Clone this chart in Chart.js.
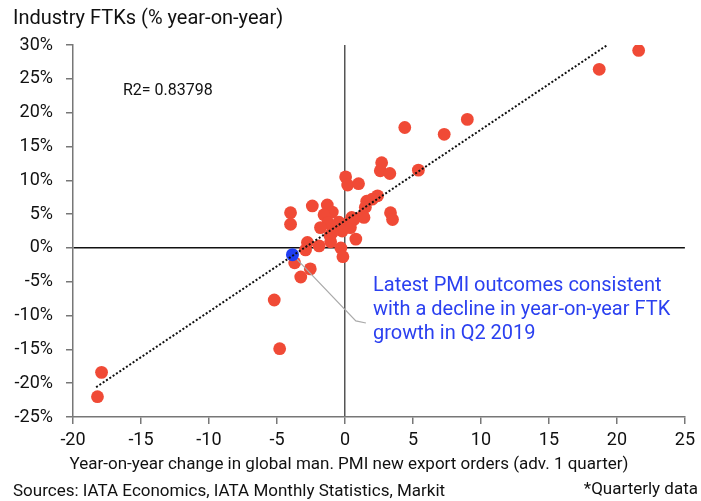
<!DOCTYPE html>
<html>
<head>
<meta charset="utf-8">
<script src="https://cdn.jsdelivr.net/npm/chart.js@4.4.1/dist/chart.umd.min.js"></script>
<style>
  html, body { margin: 0; padding: 0; background: #fff; }
  canvas { display: block; }
</style>
</head>
<body>
<canvas id="chart" width="701" height="501"></canvas>
<script>
// PMI new export orders y/y change (adv. 1 quarter) vs industry FTK growth (%)
const pmiX = [21.6, 18.7, 9.0, 7.3, 4.4, 5.4, 2.7, 2.6, 3.3, 0.05, 0.2, 1.0, 2.4, 2.0, 1.6, 1.5,
  3.35, 3.5, 1.3, 0.66, 0.3, 0.4, 0.8, -0.3, -0.15, -2.4, -4.0, -4.0, -1.3, -0.93, -1.54, -1.25,
  -1.8, -0.6, -0.44, -0.2, -1.1, -1.05, -1.9, -2.76, -2.9, -3.7, -2.55, -3.25, -5.2, -4.8, -17.9, -18.2,
  1.4, 0.5, -0.93];
const ftkY = [29.2, 26.4, 19.0, 16.8, 17.8, 11.5, 12.6, 11.4, 11.0, 10.5, 9.3, 9.5, 7.7, 7.2, 6.9, 6.0,
  5.2, 4.2, 4.7, 4.2, 3.7, 3.0, 1.3, 0.0, -1.3, 6.2, 5.2, 3.5, 6.35, 5.3, 4.9, 3.7,
  3.0, 3.25, 3.8, 2.5, 1.8, 0.9, 0.3, 0.8, -0.3, -2.2, -3.1, -4.3, -7.7, -14.9, -18.4, -22.0,
  4.5, 4.5, 2.3];

// latest quarter
const latestX = [-3.86];
const latestY = [-1.0];

// dotted trend line end points
const trendX = [-18.3, 19.3];
const trendY = [-20.6, 30.0];

// callout line from latest point towards the note
const calloutX = [-3.86, 0.8, 1.54];
const calloutY = [-1.0, -10.8, -11.1];

const xTicks = [-20, -15, -10, -5, 0, 5, 10, 15, 20, 25];
const yTicks = [-25, -20, -15, -10, -5, 0, 5, 10, 15, 20, 25, 30];

const toPts = (xs, ys) => xs.map((x, i) => ({ x: x, y: ys[i] }));

const FONT = 'Roboto';

const zeroColor = (c) => (c.tick && c.tick.value === 0) ? '#111' : 'rgba(0,0,0,0)';

const textPlugin = {
  id: 'texts',
  afterDraw(chart) {
    const c = chart.ctx;
    c.save();
    c.fillStyle = '#111';
    c.textBaseline = 'middle';
    c.textAlign = 'left';
    c.font = '20px ' + FONT;
    c.fillText('Industry FTKs (% year-on-year)', 13, 19);
    c.font = '16px ' + FONT;
    c.fillText('R2= 0.83798', 123, 91);
    c.font = '17px ' + FONT;
    c.textAlign = 'center';
    c.fillText('Year-on-year change in global man. PMI new export orders (adv. 1 quarter)', 349, 465);
    c.textAlign = 'left';
    c.fillText('Sources: IATA Economics, IATA Monthly Statistics, Markit', 13, 492);
    c.textAlign = 'right';
    c.fillText('*Quarterly data', 698, 490);
    c.textAlign = 'left';
    c.fillStyle = '#2b40f0';
    c.font = '20px ' + FONT;
    c.fillText('Latest PMI outcomes consistent', 373, 286);
    c.fillText('with a decline in year-on-year FTK', 373, 310);
    c.fillText('growth in Q2 2019', 373, 334);
    c.restore();
  }
};

new Chart(document.getElementById('chart'), {
  type: 'scatter',
  data: {
    datasets: [
      {
        type: 'line',
        data: toPts(trendX, trendY),
        borderColor: '#111',
        borderWidth: 2,
        borderDash: [2, 2],
        pointRadius: 0,
        fill: false,
        order: 0
      },
      {
        data: toPts(latestX, latestY),
        backgroundColor: '#1f3df2',
        borderWidth: 0,
        pointRadius: 6.5,
        order: 1
      },
      {
        type: 'line',
        data: toPts(calloutX, calloutY),
        borderColor: '#aaaaaa',
        borderWidth: 1.2,
        pointRadius: 0,
        fill: false,
        order: 2
      },
      {
        data: toPts(pmiX, ftkY),
        backgroundColor: '#f04a36',
        borderWidth: 0,
        pointRadius: 6.4,
        order: 3
      }
    ]
  },
  options: {
    responsive: false,
    animation: false,
    layout: { padding: { left: 0, top: 45, right: 14, bottom: 0 } },
    plugins: { legend: { display: false }, tooltip: { enabled: false } },
    scales: {
      x: {
        type: 'linear',
        min: -20, max: 25,
        afterFit(s) { s.height = 84; },
        afterBuildTicks(s) { s.ticks = xTicks.map(v => ({ value: v })); },
        grid: { color: c => (c.tick && c.tick.value === 0) ? '#555' : 'rgba(0,0,0,0)', lineWidth: 1.5, tickColor: '#777', tickLength: 7, drawTicks: true },
        border: { display: true, color: '#777', width: 1.5 },
        ticks: { color: '#111', font: { family: FONT, size: 18 }, padding: 6, maxRotation: 0, autoSkip: false }
      },
      y: {
        type: 'linear',
        min: -25, max: 30,
        afterFit(s) { s.width = 73; },
        afterBuildTicks(s) { s.ticks = yTicks.map(v => ({ value: v })); },
        grid: { color: zeroColor, lineWidth: 1.5, tickColor: '#777', tickLength: 7, drawTicks: true },
        border: { display: true, color: '#777', width: 1.5 },
        ticks: { color: '#111', font: { family: FONT, size: 18 }, padding: 13, autoSkip: false, callback: v => v + '%' }
      }
    }
  },
  plugins: [textPlugin]
});
</script>
</body>
</html>
